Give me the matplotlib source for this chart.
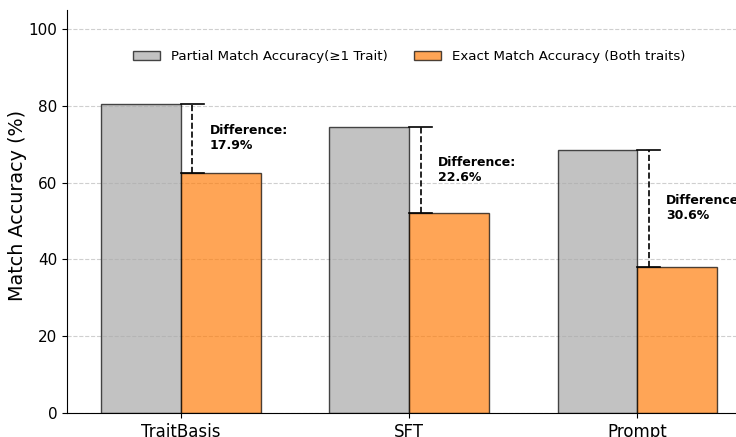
import numpy as np
import matplotlib.pyplot as plt

methods = ['TraitBasis', 'SFT', 'Prompt']
partial_acc = [80.5, 74.6, 68.6]
exact_acc = [62.6, 52.0, 38.0]

x = np.arange(len(methods))
width = 0.35

fig = plt.figure(figsize=(7.36, 4.37), dpi=100)
ax = fig.add_axes([0.091, 0.055, 0.93, 0.922])

ax.bar(x - width / 2, partial_acc, width, color='darkgray', alpha=0.7,
       edgecolor='black', linewidth=1, label='Partial Match Accuracy(≥1 Trait)')
ax.bar(x + width / 2, exact_acc, width, color='#ff7f0e', alpha=0.7,
       edgecolor='black', linewidth=1, label='Exact Match Accuracy (Both traits)')

# difference markers
for i in range(len(methods)):
    p, e = partial_acc[i], exact_acc[i]
    diff = p - e
    ax.plot([x[i], x[i] + 0.1], [p, p], color='black', linewidth=1.2)
    ax.plot([x[i], x[i] + 0.1], [e, e], color='black', linewidth=1.2)
    ax.plot([x[i] + 0.05, x[i] + 0.05], [e, p], color='black', linestyle='--', linewidth=1.2)
    ax.text(x[i] + 0.125, (p + e) / 2, f'Difference:\n{diff:.1f}%',
            fontsize=9, fontweight='bold', va='center', ha='left')

ax.set_ylabel('Match Accuracy (%)', fontsize=13.8)
ax.yaxis.set_label_coords(-0.058, 0.515)
ax.set_xticks(x)
ax.set_xticklabels(methods, fontsize=12)
ax.tick_params(axis='y', labelsize=11)
ax.set_xlim(-0.5, 2.5)
ax.set_ylim(0, 105)
ax.set_yticks([0, 20, 40, 60, 80, 100])
ax.yaxis.grid(True, linestyle='--', alpha=0.6)
ax.set_axisbelow(True)
ax.spines['top'].set_visible(False)
ax.spines['right'].set_visible(False)

ax.legend(loc='upper center', bbox_to_anchor=(0.5, 0.93), ncol=2, frameon=False, fontsize=9.6)

fig.savefig('out.png', dpi=100)
